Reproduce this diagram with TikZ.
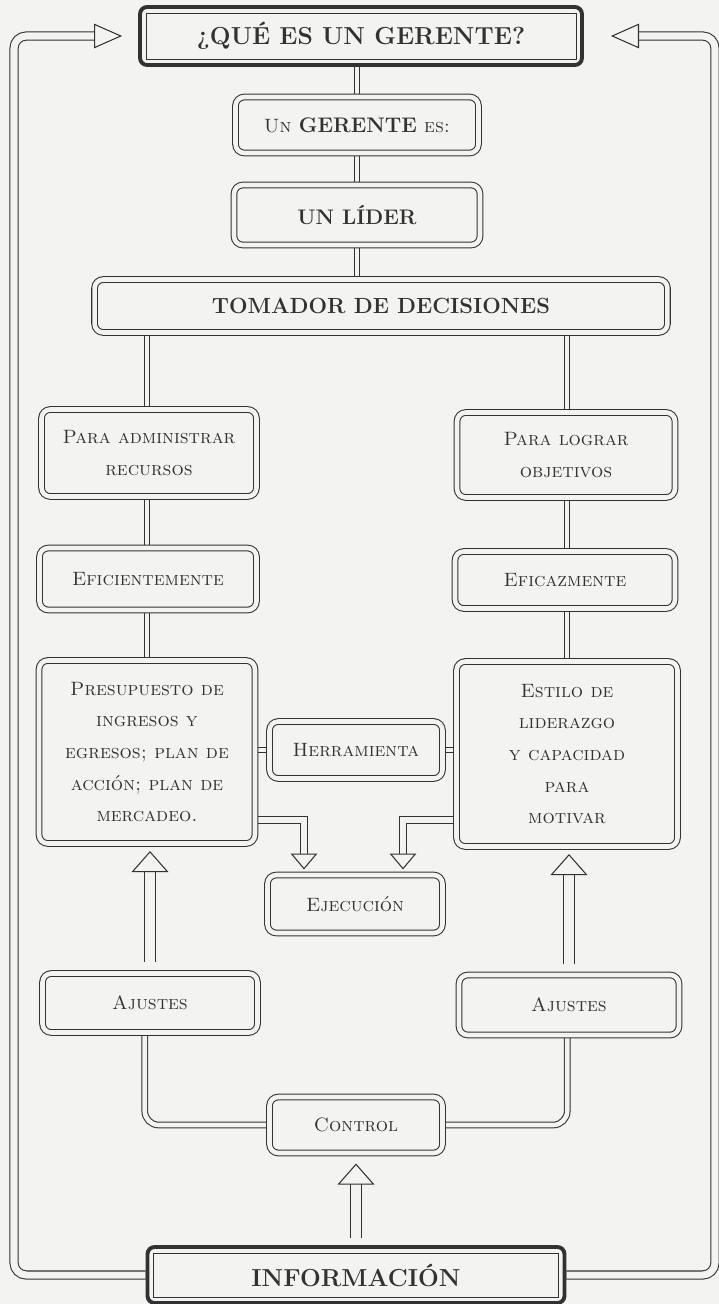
\documentclass[tikz,border=0pt]{standalone}
\usepackage{fontspec}
\usepackage{tikz}
\usetikzlibrary{arrows.meta,calc,backgrounds}

\definecolor{paper}{RGB}{243,243,241}
\definecolor{ink}{RGB}{50,50,50}

\tikzstyle{box}=[draw=ink,double=paper,double distance=2.6pt,line width=0.6pt,rounded corners=5pt,fill=paper,align=center,text=ink,font=\fontsize{11}{18}\selectfont\scshape,inner sep=0pt]
\tikzstyle{headbox}=[draw=ink,line width=2.2pt,rounded corners=4pt,fill=paper,text=ink,font=\fontsize{14}{16}\selectfont\bfseries,inner sep=0pt]
\tikzstyle{link}=[draw=ink,double=paper,double distance=2.6pt,line width=0.6pt]
\tikzstyle{hollowh}=[draw=ink,double=paper,double distance=4pt,line width=0.6pt,-{Triangle[length=16pt,width=14pt,fill=paper]}]
\tikzstyle{hollowd}=[draw=ink,double=paper,double distance=3pt,line width=0.6pt,-{Triangle[length=9pt,width=15pt,fill=paper]}]
\tikzstyle{hollowu}=[draw=ink,double=paper,double distance=5.6pt,line width=0.6pt,-{Triangle[length=12pt,width=21pt,fill=paper]}]

\begin{document}
\begin{tikzpicture}[x=0.02cm,y=-0.02cm]
\useasboundingbox (0,0) rectangle (719,1304);

    \node[headbox,minimum width=8.84cm,minimum height=1.16cm] (title) at (361,36) {¿QUÉ ES UN GERENTE?};
    \node[headbox,minimum width=8.34cm,minimum height=1.12cm] (info) at (356,1275) {INFORMACIÓN};
    \foreach \n in {title,info}
        \draw[ink,line width=0.5pt] ([shift={(4.5pt,-4.5pt)}]\n.north west) rectangle ([shift={(-4.5pt,4.5pt)}]\n.south east);

    \foreach \pos/\name/\w/\h/\label in {
        (357,125)/gerente/4.86/1.12/{Un {\upshape\bfseries\fontsize{12}{14}\selectfont GERENTE} es:},
        (357,215)/lider/4.92/1.20/{\upshape\bfseries\fontsize{12}{14}\selectfont UN LÍDER},
        (381,306)/tomador/11.46/1.06/{\upshape\bfseries\fontsize{12.5}{14}\selectfont TOMADOR DE DECISIONES},
        (149,453)/admin/4.30/1.74/{Para administrar\\recursos},
        (566,455)/lograr/4.36/1.70/{Para lograr\\objetivos},
        (148,579)/eficiente/4.34/1.24/{Eficientemente},
        (565,580)/eficaz/4.40/1.14/{Eficazmente},
        (147,752)/presup/4.32/3.66/{Presupuesto de\\ingresos y\\egresos; plan de\\acción; plan de\\mercadeo.},
        (567,754)/estilo/4.42/3.70/{Estilo de\\liderazgo\\y capacidad\\para\\motivar},
        (356,750)/herram/3.46/1.14/{Herramienta},
        (355,904)/ejec/3.50/1.16/{Ejecución},
        (150,1003)/adjL/4.30/1.18/{Ajustes},
        (569,1005)/adjR/4.40/1.20/{Ajustes},
        (356,1125)/control/3.46/1.12/{Control}}
        \node[box,minimum width=\w cm,minimum height=\h cm] (\name) at \pos {\label};

\begin{scope}[on background layer]
    \fill[paper] (0,0) rectangle (719,1304);
    \draw[link] (gerente) -- (gerente |- title);
    \draw[link] (gerente) -- (lider);
    \draw[link] (lider) -- (lider |- tomador);
    \draw[link] (presup |- tomador) -- (presup);
    \draw[link] (estilo |- tomador) -- (estilo);
    \draw[link] (herram) -- (herram -| presup);
    \draw[link] (herram) -- (herram -| estilo);
    \draw[link,rounded corners=8pt] ([xshift=-3]adjL.south) |- (control.west);
    \draw[link,rounded corners=8pt] ([xshift=-1]adjR.south) |- (control.east);

    \draw[hollowd] (presup.east |- 0,820) -| ($(ejec.north)+(-51,-5)$);
    \draw[hollowd] (estilo.east |- 0,820) -| ($(ejec.north)+(48,-5)$);
    \draw[hollowu,shorten <=0.22cm] (adjL.north) -- ($(adjL.north |- presup.south)+(0,7)$);
    \draw[hollowu,shorten <=0.2cm] (adjR.north) -- ($(adjR.north |- estilo.south)+(0,7)$);
    \draw[hollowu,shorten <=0.14cm] (info.north) -- ($(control.south)+(0,10)$);

    \draw[hollowh,rounded corners=7pt] (info.west) -| (14,36) -- ($(title.west)+(-16,0)$);
    \draw[hollowh,rounded corners=7pt] (info.east) -| (715,36) -- ($(title.east)+(27,0)$);
\end{scope}
\end{tikzpicture}
\end{document}
